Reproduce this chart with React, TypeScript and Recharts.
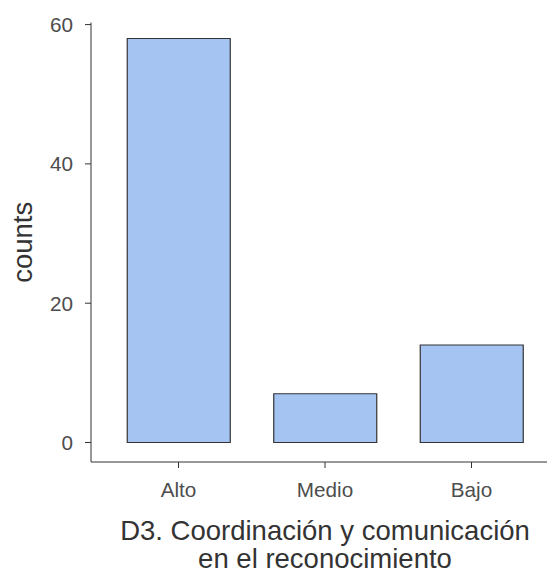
import { BarChart, Bar, XAxis, YAxis, Label } from 'recharts';

const categories = ['Alto', 'Medio', 'Bajo'];
const counts = [58, 7, 14];
const yTicks = [0, 20, 40, 60];
const xTitle = ['D3. Coordinación y comunicación', 'en el reconocimiento'];
const yTitle = 'counts';

const data = categories.map((c, i) => ({ name: c, value: counts[i] }));

const FONT = '"Liberation Sans", Arial, sans-serif';
const AXIS = '#333333';
const TICK_TEXT = '#4d4d4d';
const TITLE_TEXT = '#333333';

const XTitle = (props: any) => {
    const { viewBox } = props;
    const cx = viewBox.x + viewBox.width / 2;
    return (
        <text x={cx} y={viewBox.y + 78} textAnchor="middle" fontSize={27.5} fill={TITLE_TEXT} fontFamily={FONT}>
            {xTitle.map((line, i) => (
                <tspan key={line} x={cx} dy={i === 0 ? 0 : 27.5}>{line}</tspan>
            ))}
        </text>
    );
};

export default function App() {
    return (
        <div style={{ margin: '-8px 0 0 -8px', width: 560, height: 571, background: '#fff' }}>
            <BarChart
                width={560}
                height={571}
                data={data}
                margin={{ top: 22.5, right: 1, bottom: 0, left: 0 }}
            >
                <XAxis
                    dataKey="name"
                    padding={{ left: 14.25, right: 14.25 }}
                    tickLine={{ stroke: AXIS }}
                    axisLine={{ stroke: AXIS }}
                    tickSize={6}
                    tickMargin={14}
                    tick={{ fill: TICK_TEXT, fontSize: 20.7, fontFamily: FONT }}
                    height={109}
                >
                    <Label content={<XTitle />} />
                </XAxis>
                <YAxis
                    domain={[-2.8, 60.3]}
                    ticks={yTicks}
                    allowDataOverflow
                    width={91}
                    tickLine={{ stroke: AXIS }}
                    axisLine={{ stroke: AXIS }}
                    tickSize={6}
                    tickMargin={12}
                    tick={{ fill: TICK_TEXT, fontSize: 20.7, fontFamily: FONT }}
                >
                    <Label
                        value={yTitle}
                        angle={-90}
                        position="insideLeft"
                        offset={22}
                        style={{ textAnchor: 'middle', fontSize: 27.5, fill: TITLE_TEXT, fontFamily: FONT }}
                    />
                </YAxis>
                <Bar
                    dataKey="value"
                    barSize={103}
                    fill="#a5c4f1"
                    stroke="#333333"
                    strokeWidth={1.2}
                    isAnimationActive={false}
                />
            </BarChart>
        </div>
    );
}
